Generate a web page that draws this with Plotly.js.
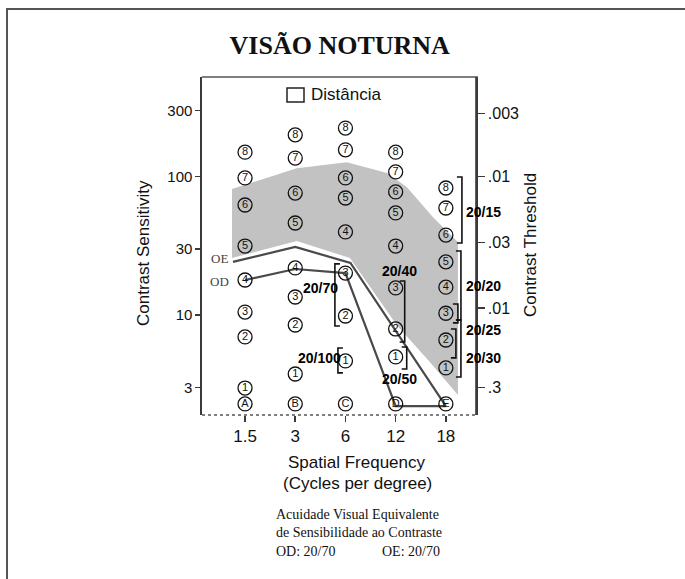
<!DOCTYPE html>
<html>
<head>
<meta charset="utf-8">
<script src="https://cdn.plot.ly/plotly-3.0.1.min.js"></script>
<style>html,body{margin:0;padding:0;background:#fff;}#chart{width:685px;height:579px;}</style>
</head>
<body>
<div id="chart"></div>
<script>
// ---- data ----
const freqLabels = ['1.5', '3', '6', '12', '18'];          // cycles per degree
const patchNumbers = ['1', '2', '3', '4', '5', '6', '7', '8'];
const sens15 = [2.97, 6.95, 10.5, 17.9, 31.5, 62.3, 97.7, 150];
const sens3  = [3.75, 8.47, 13.5, 21.9, 46.2, 76, 136, 200];
const sens6  = [4.66, 9.84, 20.1, 39.8, 70, 97.7, 156, 224];
const sens12 = [4.98, 7.93, 15.7, 31.5, 54.6, 77.4, 108, 150];
const sens18 = [4.15, 6.6, 10.3, 15.9, 24.2, 37.8, 59.3, 82.7];
const rowLetters = ['A', 'B', 'C', 'D', 'E'];
const letterSens = 2.28;

// normal range (shaded band), x in column units
const normUpperX = [-0.26, 1.03, 2.03, 2.23, 2.83, 3.22, 3.74, 4.24];
const normUpper  = [81.3, 115, 127, 121, 106, 84, 51, 33.7];
const normLowerX = [-0.26, 1.03, 2.09, 3.02, 3.68, 4.24];
const normLower  = [25.8, 34.3, 25.8, 8.47, 4.58, 2.65];

// patient curves
const odX = [0, 1, 2, 3, 4];
const odSens = [17.9, 21.5, 20.1, 2.2, 2.2];
const oeX = [-0.24, 1, 2.1, 4];
const oeSens = [24.2, 31, 23.8, 2.2];

// acuity-equivalent brackets
const acuityLabels = ['20/70', '20/100', '20/40', '20/50', '20/15', '20/20', '20/25', '20/30', ''];
const acuityCol    = [2, 2, 3, 3, 4, 4, 4, 4, 4];
const acuityHigh   = [23.4, 5.78, 17.6, 5.88, 99.3, 29, 12.0, 9.2, 7.93];
const acuityLow    = [8.34, 3.82, 6.39, 4.08, 33.1, 9.2, 8.77, 3.57, 4.9];

// ---- placement / style (not data) ----
const bracketDx    = [-0.21, -0.15, 0.18, 0.22, 0.32, 0.30, 0.24, 0.30, 0.20];
const bracketSerif = [0.1, 0.1, -0.1, -0.1, -0.1, -0.1, -0.1, -0.1, -0.1];
const labelDx      = [-0.49, -0.51, 0.08, 0.08, 0.74, 0.74, 0.74, 0.74, 0];
const labelSens    = [15.7, 4.9, 20.8, 3.45, 55.5, 16.2, 7.8, 4.9, 1];

const xRange = [-0.857, 4.6];
const yRange = [0.278, 2.719];
const xPaper = xi => (xi - xRange[0]) / (xRange[1] - xRange[0]);
const yPaper = v => (Math.log10(v) - yRange[0]) / (yRange[1] - yRange[0]);
const px = v => (v - 202) / 274;   // pixel -> paper helpers for page decorations
const py = v => (415 - v) / 338;

const columns = [sens15, sens3, sens6, sens12, sens18];
const cx = [], cy = [], ct = [];
columns.forEach((col, i) => {
  col.forEach((v, j) => { cx.push(i); cy.push(v); ct.push(patchNumbers[j]); });
  cx.push(i); cy.push(letterSens); ct.push(rowLetters[i]);
});

const bx = [], by = [];
acuityLabels.forEach((lab, i) => {
  const x = acuityCol[i] + bracketDx[i];
  const s = x + bracketSerif[i];
  bx.push(s, x, x, s, null);
  by.push(acuityHigh[i], acuityHigh[i], acuityLow[i], acuityLow[i], null);
});

const dark = '#3a3a3a';
const traces = [
  { // normal band
    x: normUpperX.concat(normLowerX.slice().reverse()),
    y: normUpper.concat(normLower.slice().reverse()),
    mode: 'lines', fill: 'toself', fillcolor: '#c2c2c2',
    line: { width: 0, color: '#c2c2c2' }, hoverinfo: 'skip'
  },
  { x: oeX, y: oeSens, mode: 'lines', line: { color: '#4a4a4a', width: 2.2 }, hoverinfo: 'skip' },
  { x: odX, y: odSens, mode: 'lines', line: { color: '#4a4a4a', width: 2.2 }, hoverinfo: 'skip' },
  {
    x: cx, y: cy, text: ct, mode: 'markers+text', textposition: 'middle center',
    textfont: { family: 'Liberation Sans, Arial', size: 11, color: '#111' },
    marker: { symbol: 'circle', size: 14, color: 'rgba(255,255,255,0)', line: { color: '#111', width: 1.3 } },
    hoverinfo: 'skip'
  },
  { x: bx, y: by, mode: 'lines', line: { color: '#111', width: 1.6 }, hoverinfo: 'skip', connectgaps: false },
  { // contrast-threshold axis companion (invisible; threshold = 1 / sensitivity)
    x: sens18.map(() => 4), y: sens18.map(s => 1 / s), yaxis: 'y2', mode: 'markers',
    marker: { size: 1, color: 'rgba(0,0,0,0)' }, hoverinfo: 'skip'
  }
];

const acuityAnn = [];
acuityLabels.forEach((lab, i) => {
  if (!lab) return;
  acuityAnn.push({
    text: '<b>' + lab + '</b>', xref: 'paper', yref: 'paper',
    x: xPaper(acuityCol[i] + labelDx[i]), y: yPaper(labelSens[i]),
    xanchor: 'center', yanchor: 'middle', showarrow: false,
    font: { family: 'Liberation Sans, Arial', size: 14, color: '#000' }
  });
});

const serif = 'Liberation Serif, Times New Roman';
const layout = {
  width: 685, height: 579,
  margin: { l: 202, r: 209, t: 77, b: 164, pad: 0 },
  paper_bgcolor: '#fff', plot_bgcolor: '#fff',
  showlegend: false,
  font: { family: 'Liberation Sans, Arial', color: '#111' },
  title: {
    text: '<b>VISÃO NOTURNA</b>', xref: 'container', yref: 'container',
    x: 0.496, y: 1 - 45 / 579, xanchor: 'center', yanchor: 'middle',
    font: { family: serif, size: 26, color: '#111' }
  },
  xaxis: {
    range: xRange, tickvals: [0, 1, 2, 3, 4], ticktext: freqLabels,
    ticks: 'outside', ticklen: 6, tickwidth: 1.5, tickcolor: dark,
    showgrid: false, zeroline: false, showline: false,
    tickfont: { size: 17, color: '#111' }
  },
  yaxis: {
    type: 'log', range: yRange,
    tickvals: [3, 10, 30, 100, 300], ticktext: ['3', '10', '30', '100', '300'],
    ticks: 'outside', ticklen: 5, tickwidth: 1.5, tickcolor: dark,
    showline: true, linecolor: dark, linewidth: 1.6,
    showgrid: false, zeroline: false, tickfont: { size: 15, color: '#111' }
  },
  yaxis2: {
    type: 'log', overlaying: 'y', anchor: 'x', side: 'right', range: [-yRange[0], -yRange[1]],
    autorange: false,
    tickvals: [0.0035, 0.01, 0.03, 0.089, 0.335], ticktext: ['.003', '.01', '.03', '.01', '.3'],
    ticks: 'outside', ticklen: 7, tickwidth: 1.5, tickcolor: dark,
    showline: true, linecolor: dark, linewidth: 1.6,
    showgrid: false, zeroline: false, tickfont: { size: 16, color: '#111' }
  },
  shapes: [
    { type: 'line', xref: 'paper', yref: 'paper', x0: 0, x1: 1.007, y0: 1, y1: 1, line: { color: '#555', width: 1.6 } },
    { type: 'line', xref: 'paper', yref: 'paper', x0: 1, x1: 1, y0: 0, y1: 1, line: { color: dark, width: 1.6 } },
    { type: 'line', xref: 'paper', yref: 'paper', x0: 0, x1: 1, y0: 0, y1: 0, line: { color: '#555', width: 1.5, dash: 'dot' } },
    { type: 'rect', xref: 'paper', yref: 'paper', x0: px(287), x1: px(304), y0: py(102), y1: py(88), line: { color: '#222', width: 1.5 } },
    { type: 'rect', xref: 'paper', yref: 'paper', x0: px(7), x1: px(720), y0: py(620), y1: py(9), line: { color: '#555', width: 2 } }
  ],
  annotations: [
    { text: 'Distância', xref: 'paper', yref: 'paper', x: px(309), y: py(94), xanchor: 'left', yanchor: 'middle', showarrow: false, font: { size: 17, color: '#111' } },
    { text: 'Contrast Sensitivity', xref: 'paper', yref: 'paper', x: px(143), y: py(253), textangle: -90, xanchor: 'center', yanchor: 'middle', showarrow: false, font: { size: 17, color: '#111' } },
    { text: 'Contrast Threshold', xref: 'paper', yref: 'paper', x: px(530), y: py(245), textangle: -90, xanchor: 'center', yanchor: 'middle', showarrow: false, font: { size: 17, color: '#111' } },
    { text: 'Spatial Frequency', xref: 'paper', yref: 'paper', x: px(357), y: py(462), xanchor: 'center', yanchor: 'middle', showarrow: false, font: { size: 17, color: '#111' } },
    { text: '(Cycles per degree)', xref: 'paper', yref: 'paper', x: px(357), y: py(483), xanchor: 'center', yanchor: 'middle', showarrow: false, font: { size: 17, color: '#111' } },
    { text: 'Acuidade Visual Equivalente<br>de Sensibilidade ao Contraste', xref: 'paper', yref: 'paper', x: px(274), y: py(523), xanchor: 'left', yanchor: 'middle', align: 'left', showarrow: false, font: { family: serif, size: 14, color: '#111' } },
    { text: 'OD: 20/70', xref: 'paper', yref: 'paper', x: px(274), y: py(551), xanchor: 'left', yanchor: 'middle', showarrow: false, font: { family: serif, size: 14, color: '#111' } },
    { text: 'OE: 20/70', xref: 'paper', yref: 'paper', x: px(380), y: py(551), xanchor: 'left', yanchor: 'middle', showarrow: false, font: { family: serif, size: 14, color: '#111' } },
    { text: 'OE', xref: 'paper', yref: 'paper', x: xPaper(-0.5), y: yPaper(25.8), xanchor: 'center', yanchor: 'middle', showarrow: false, font: { family: serif, size: 13, color: '#444' } },
    { text: 'OD', xref: 'paper', yref: 'paper', x: xPaper(-0.5), y: yPaper(17.6), xanchor: 'center', yanchor: 'middle', showarrow: false, font: { family: serif, size: 13, color: '#444' } }
  ].concat(acuityAnn)
};

Plotly.newPlot('chart', traces, layout, { displayModeBar: false, staticPlot: true });
</script>
</body>
</html>
